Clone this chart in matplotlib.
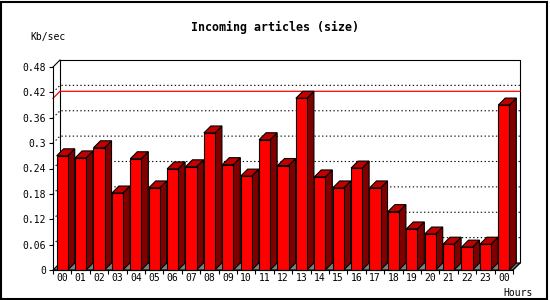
import matplotlib
matplotlib.use("Agg")
import matplotlib.pyplot as plt
from matplotlib.patches import Polygon, Rectangle

hours = ['00', '01', '02', '03', '04', '05', '06', '07', '08', '09', '10', '11',
         '12', '13', '14', '15', '16', '17', '18', '19', '20', '21', '22', '23', '00']
values = [0.270, 0.265, 0.289, 0.182, 0.263, 0.194, 0.239, 0.244, 0.324, 0.249,
          0.222, 0.308, 0.247, 0.406, 0.220, 0.194, 0.241, 0.194, 0.138, 0.097,
          0.085, 0.061, 0.054, 0.061, 0.390]
ytick_vals = [0, 0.06, 0.12, 0.18, 0.24, 0.3, 0.36, 0.42, 0.48]
ytick_labels = ['0', '0.06', '0.12', '0.18', '0.24', '0.3', '0.36', '0.42', '0.48']
title = 'Incoming articles (size)'
ylabel = 'Kb/sec'
xlabel = 'Hours'

FONT = 'DejaVu Sans Mono'
W, H = 550, 300
fig = plt.figure(figsize=(W / 100, H / 100), dpi=100)
fig.patch.set_facecolor('white')

# front plotting area in pixels
L, R, B, T = 53, 513, 270, 67
ax = fig.add_axes([L / W, (H - B) / H, (R - L) / W, (B - T) / H])
n = len(values)
ymax = ytick_vals[-1]
ax.set_xlim(0, n)
ax.set_ylim(0, ymax)
ax.patch.set_visible(False)

# 3D depth offset (7 px) in data units
dx = 7 / ((R - L) / n)
dy = 7 * ymax / (B - T)

lw = 0.8
# floor
ax.add_patch(Polygon([(0, 0), (dx, dy), (n + dx, dy), (n, 0)], closed=True,
                     facecolor='#808080', edgecolor='black', lw=lw, clip_on=False, zorder=1))
# back plane outline
ax.plot([dx, dx, n + dx, n + dx], [dy, ymax + dy, ymax + dy, dy], color='black', lw=lw,
        clip_on=False, zorder=1, solid_capstyle='butt')
ax.plot([0, dx], [ymax, ymax + dy], color='black', lw=lw, clip_on=False, zorder=1)
ax.plot([n, n + dx], [0, dy], color='black', lw=lw, clip_on=False, zorder=1)

# dotted gridlines on back plane
for v in ytick_vals[1:-1]:
    ax.plot([0, dx, n + dx], [v, v + dy, v + dy], color='black', lw=0.8,
            linestyle=(0, (1.2, 2.2)), clip_on=False, zorder=1.5)

# max line (red)
vm = max(values)
ax.plot([0, dx, n + dx], [vm, vm + dy, vm + dy], color='#ff0000', lw=0.9,
        clip_on=False, zorder=1.6)

# bars
off, bw = 0.2, 0.6
for i, v in enumerate(values):
    xl = i + off
    xr = xl + bw
    front = Polygon([(xl, 0), (xl, v), (xr, v), (xr, 0)], closed=True,
                    facecolor='#ff0000', edgecolor='black', lw=lw, clip_on=False, zorder=3)
    side = Polygon([(xr, 0), (xr + dx, dy), (xr + dx, v + dy), (xr, v)], closed=True,
                   facecolor='#800000', edgecolor='black', lw=lw, clip_on=False, zorder=3)
    top = Polygon([(xl, v), (xl + dx, v + dy), (xr + dx, v + dy), (xr, v)], closed=True,
                  facecolor='#c00000', edgecolor='black', lw=lw, clip_on=False, zorder=3)
    ax.add_patch(side)
    ax.add_patch(top)
    ax.add_patch(front)

# axes / ticks
for s in ['top', 'right']:
    ax.spines[s].set_visible(False)
for s in ['left', 'bottom']:
    ax.spines[s].set_linewidth(lw)
    ax.spines[s].set_zorder(4)
ax.set_yticks(ytick_vals)
ax.set_yticklabels(ytick_labels, fontfamily=FONT, fontsize=7)
ax.tick_params(axis='y', length=3, width=lw, pad=2)
ax.set_xticks(range(n + 1))
ax.set_xticklabels([])
ax.tick_params(axis='x', which='major', length=3.2, width=lw)
ax.set_xticks([i + 0.5 for i in range(n)], minor=True)
ax.set_xticklabels(hours, minor=True, fontfamily=FONT, fontsize=7)
ax.tick_params(axis='x', which='minor', length=0, pad=2)

fig.text(0.5, 1 - 27 / H, title, ha='center', va='center', fontfamily=FONT,
         fontweight='bold', fontsize=8.4)
fig.text(30 / W, 1 - 37 / H, ylabel, ha='left', va='center', fontfamily=FONT, fontsize=7)
fig.text(533 / W, 1 - 293 / H, xlabel, ha='right', va='center', fontfamily=FONT, fontsize=7)

# outer frame
fig.patches.append(Rectangle((1 / W, 1.5 / H), 546 / W, 297 / H, transform=fig.transFigure,
                             fill=False, edgecolor='black', lw=1.5))

fig.savefig('out.png', dpi=100, facecolor='white')
